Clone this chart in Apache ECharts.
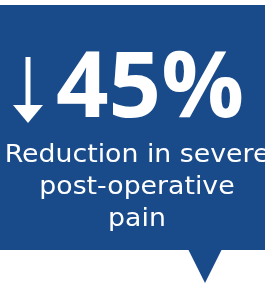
<!DOCTYPE html>
<html><head><meta charset="utf-8">
<style>html,body{margin:0;padding:0;background:#fff}#c{width:265px;height:285px}</style>
<script src="https://cdn.jsdelivr.net/npm/echarts@6/dist/echarts.min.js"></script>
</head><body><div id="c"></div>
<script>
var statValue = [45];
var statUnit = ['%'];
var captionLines = ['Reduction in severe', 'post-operative', 'pain'];

var chart = echarts.init(document.getElementById('c'), null, {renderer: 'canvas'});
var blue = '#194a8a';
var elements = [
  {type: 'rect', shape: {x: 0, y: 5, width: 265, height: 245}, style: {fill: blue}},
  {type: 'polygon', shape: {points: [[188, 249], [222, 249], [205, 283]]}, style: {fill: blue}},
  {type: 'rect', shape: {x: 25.5, y: 57, width: 5, height: 50}, style: {fill: '#fff'}},
  {type: 'polygon', shape: {points: [[13, 105], [43, 105], [28, 123]]}, style: {fill: '#fff'}},
  {type: 'text', x: 150, y: 137, style: {text: statValue[0] + statUnit[0], fill: '#fff', fontFamily: 'Open Sans', fontWeight: 'bold', fontSize: 92, textAlign: 'center', textVerticalAlign: 'bottom'}}
];
var baselines = [163, 195, 227];
captionLines.forEach(function (t, i) {
  elements.push({type: 'text', x: 137, y: baselines[i] + 5, scaleX: 1.07, style: {text: t, fill: '#fff', fontFamily: 'DejaVu Sans', fontSize: 25, textAlign: 'center', textVerticalAlign: 'bottom'}});
});
chart.setOption({animation: false, graphic: {elements: elements}});
</script></body></html>
